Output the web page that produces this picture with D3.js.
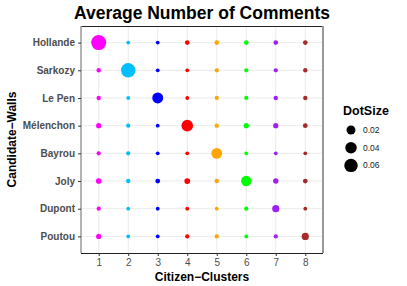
<!doctype html>
<html>
<head>
<meta charset="utf-8"/>
<title>Average Number of Comments</title>
<script src="https://d3js.org/d3.v7.min.js"></script>
<style>
 body { margin: 0; background: #fff; }
 text { font-family: "Liberation Sans", Arial, sans-serif; }
</style>
</head>
<body>
<script>
// categories
var clusters = [1, 2, 3, 4, 5, 6, 7, 8];
var candidates = ["Hollande", "Sarkozy", "Le Pen", "Mélenchon", "Bayrou", "Joly", "Dupont", "Poutou"];
var clusterColors = ["#ff00ff", "#00bfff", "#0000ff", "#ff0000", "#ffa500", "#00ff00", "#a020f0", "#a52a2a"];

// DotSize per candidate (one value per cluster 1..8)
var hollande  = [0.0800, 0.0040, 0.0040, 0.0044, 0.0044, 0.0044, 0.0044, 0.0044];
var sarkozy   = [0.0042, 0.0720, 0.0040, 0.0040, 0.0041, 0.0041, 0.0041, 0.0042];
var lePen     = [0.0042, 0.0040, 0.0350, 0.0040, 0.0041, 0.0041, 0.0042, 0.0042];
var melenchon = [0.0052, 0.0041, 0.0040, 0.0410, 0.0042, 0.0052, 0.0052, 0.0046];
var bayrou    = [0.0041, 0.0041, 0.0040, 0.0040, 0.0340, 0.0040, 0.0040, 0.0040];
var joly      = [0.0060, 0.0042, 0.0046, 0.0064, 0.0042, 0.0300, 0.0056, 0.0046];
var dupont    = [0.0041, 0.0040, 0.0040, 0.0040, 0.0040, 0.0041, 0.0110, 0.0040];
var poutou    = [0.0052, 0.0040, 0.0040, 0.0041, 0.0041, 0.0040, 0.0041, 0.0110];
var dotSize = [hollande, sarkozy, lePen, melenchon, bayrou, joly, dupont, poutou];

var legendBreaks = [0.02, 0.04, 0.06];

var W = 407, H = 286;
var panel = {left: 81, right: 323, top: 26, bottom: 253};

var svg = d3.select("body").append("svg")
  .attr("width", W)
  .attr("height", H);

var x = d3.scaleLinear()
  .domain([0.4, 8.6])
  .range([panel.left, panel.right]);

var y = d3.scalePoint()
  .domain(candidates)
  .range([panel.top, panel.bottom])
  .padding(0.6);

// ggplot-like area scale: radius grows with sqrt of rescaled value
var all = d3.merge(dotSize);
var vmin = d3.min(all), vmax = d3.max(all);
var sizeFrac = d3.scaleLinear().domain([vmin, vmax]).range([0, 1]).clamp(true);
var rad = function(v) { return 1.9 + 5.6 * Math.sqrt(sizeFrac(v)); };

// panel background + grid
svg.append("rect")
  .attr("x", panel.left).attr("y", panel.top)
  .attr("width", panel.right - panel.left)
  .attr("height", panel.bottom - panel.top)
  .attr("fill", "#fff");

svg.append("g").selectAll("line")
  .data(clusters).enter().append("line")
  .attr("x1", function(d){ return x(d); })
  .attr("x2", function(d){ return x(d); })
  .attr("y1", panel.top).attr("y2", panel.bottom)
  .attr("stroke", "#ebebeb").attr("stroke-width", 1);

svg.append("g").selectAll("line")
  .data(candidates).enter().append("line")
  .attr("y1", function(d){ return y(d); })
  .attr("y2", function(d){ return y(d); })
  .attr("x1", panel.left).attr("x2", panel.right)
  .attr("stroke", "#ebebeb").attr("stroke-width", 1);

// points
var pts = [];
candidates.forEach(function(c, i) {
  clusters.forEach(function(k, j) {
    pts.push({cand: c, cl: k, v: dotSize[i][j], col: clusterColors[j]});
  });
});

svg.append("g").selectAll("circle")
  .data(pts).enter().append("circle")
  .attr("cx", function(d){ return x(d.cl); })
  .attr("cy", function(d){ return y(d.cand); })
  .attr("r", function(d){ return rad(d.v); })
  .attr("fill", function(d){ return d.col; });

// borders
svg.append("line").attr("x1", panel.left).attr("x2", panel.right)
  .attr("y1", panel.top + 0.5).attr("y2", panel.top + 0.5)
  .attr("stroke", "#222").attr("stroke-width", 1);
svg.append("line").attr("x1", panel.right).attr("x2", panel.right)
  .attr("y1", panel.top).attr("y2", panel.bottom)
  .attr("stroke", "#999").attr("stroke-width", 2);
svg.append("line").attr("x1", panel.left).attr("x2", panel.left)
  .attr("y1", panel.top).attr("y2", panel.bottom)
  .attr("stroke", "#999").attr("stroke-width", 1.5);

// axes
var xAxis = svg.append("g")
  .attr("transform", "translate(0," + panel.bottom + ")")
  .call(d3.axisBottom(x).tickValues(clusters).tickSize(3).tickPadding(3).tickFormat(d3.format("d")));
xAxis.select(".domain").attr("stroke", "#222").attr("d", "M" + panel.left + ",0.5H" + panel.right);
xAxis.selectAll(".tick line").attr("stroke", "#333");
xAxis.selectAll("text").attr("fill", "#4d4d4d").style("font-size", "10px");

var yAxis = svg.append("g")
  .attr("transform", "translate(" + panel.left + ",0)")
  .call(d3.axisLeft(y).tickSize(3).tickPadding(3));
yAxis.select(".domain").remove();
yAxis.selectAll(".tick line").attr("stroke", "#333");
yAxis.selectAll("text").attr("fill", "#4d4d4d")
  .style("font-size", "10px").style("font-weight", "bold");

// titles
svg.append("text")
  .attr("x", (panel.left + panel.right) / 2).attr("y", 19)
  .attr("text-anchor", "middle")
  .style("font-size", "17.5px").style("font-weight", "bold")
  .text("Average Number of Comments");

svg.append("text")
  .attr("x", (panel.left + panel.right) / 2).attr("y", 280.5)
  .attr("text-anchor", "middle")
  .style("font-size", "12px").style("font-weight", "bold")
  .text("Citizen\u2212Clusters");

svg.append("text")
  .attr("transform", "translate(15.5," + ((panel.top + panel.bottom) / 2) + ") rotate(-90)")
  .attr("text-anchor", "middle")
  .style("font-size", "12px").style("font-weight", "bold")
  .text("Candidate\u2212Walls");

// legend
var lg = svg.append("g");
lg.append("text")
  .attr("x", 343).attr("y", 115)
  .style("font-size", "12.5px").style("font-weight", "bold")
  .text("DotSize");

var items = lg.selectAll("g.item")
  .data(legendBreaks).enter().append("g")
  .attr("transform", function(d, i){ return "translate(351," + (130 + i * 17.7) + ")"; });
items.append("circle")
  .attr("r", function(d){ return rad(d); })
  .attr("fill", "#000");
items.append("text")
  .attr("x", 12).attr("dy", "0.35em")
  .style("font-size", "8.5px").attr("fill", "#1a1a1a")
  .text(function(d){ return d; });
</script>
</body>
</html>
